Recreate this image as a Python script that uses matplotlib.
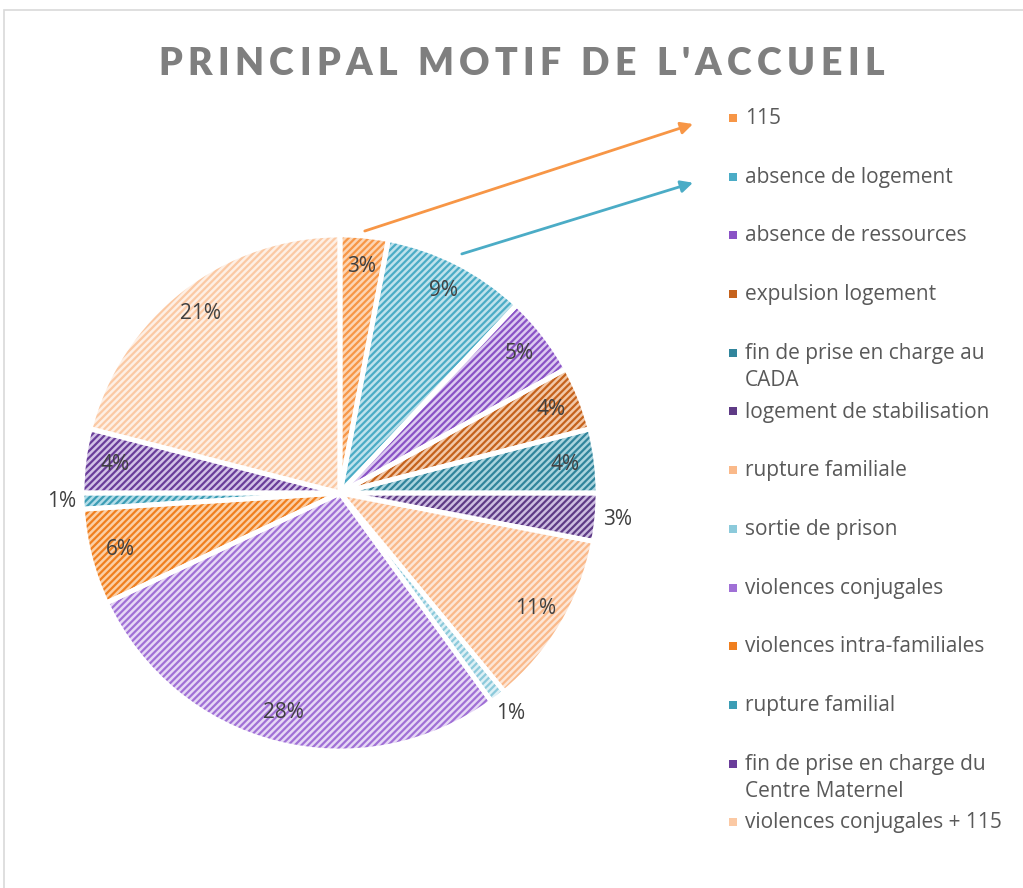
import matplotlib
matplotlib.use("Agg")
import matplotlib.pyplot as plt
import numpy as np
from matplotlib.patches import Rectangle

plt.rcParams['hatch.linewidth'] = 1.6

labels = ["115", "absence de logement", "absence de ressources", "expulsion logement",
          "fin de prise en charge au\nCADA", "logement de stabilisation", "rupture familiale",
          "sortie de prison", "violences conjugales", "violences intra-familiales",
          "rupture familial", "fin de prise en charge du\nCentre Maternel",
          "violences conjugales + 115"]
values = [3, 9, 5, 4, 4, 3, 11, 1, 28, 6, 1, 4, 21]
stripe_colors = ["#F79646", "#4BACC6", "#8A52C6", "#C5621C", "#31859C", "#5F3B86",
                 "#FAB98A", "#8CCADB", "#A070D6", "#F07F1F", "#3C9DB5", "#6A3D9A",
                 "#FBC9A4"]
light_colors = ["#FCD5B4", "#BFE2EC", "#DCCAF0", "#F2C8A8", "#AAD4DE", "#CDBDE0",
                "#FDE6D6", "#DDF0F5", "#E6D8F5", "#FBCFA6", "#B2DCE8", "#D2C2E6",
                "#FEEFE4"]
title = "PRINCIPAL MOTIF DE L'ACCUEIL"
outside = {5, 7, 10}

W, H = 1023, 888
fig = plt.figure(figsize=(W / 100, H / 100), dpi=100)
fig.patch.set_facecolor("white")

# chart border
fig.patches.append(Rectangle((4 / W, 1 - 1100 / H), 1100 / W, 1090 / H,
                             transform=fig.transFigure, fill=False,
                             edgecolor="#D9D9D9", linewidth=1.2))

cx, cy, R = 340, 493, 258
ax = fig.add_axes([(cx - R) / W, (H - cy - R) / H, 2 * R / W, 2 * R / H])
ax.set_aspect("equal")

wedges, _ = ax.pie(values, startangle=90, counterclock=False, radius=1,
                   colors=light_colors,
                   wedgeprops=dict(linewidth=0, hatch="/////"))
for w, sc in zip(wedges, stripe_colors):
    w.set_edgecolor(sc)

wedges2, _ = ax.pie(values, startangle=90, counterclock=False, radius=1,
                    colors=["none"] * len(values),
                    wedgeprops=dict(linewidth=3.5, edgecolor="white"))

for i, (w, v) in enumerate(zip(wedges, values)):
    ang = np.deg2rad((w.theta1 + w.theta2) / 2)
    r = 1.08 if i in outside else 0.88
    ax.text(r * np.cos(ang), r * np.sin(ang), f"{v}%", ha="center", va="center",
            fontsize=15, color="#404040", family="Open Sans")

ax.set_xlim(-1, 1)
ax.set_ylim(-1, 1)
ax.axis("off")

# legend
lx, ly0, dy = 733 / W, 118, 58.7
for i, (lab, sc) in enumerate(zip(labels, stripe_colors)):
    y = 1 - (ly0 + i * dy) / H
    fig.patches.append(Rectangle((lx - 4 / W, y - 4 / H), 8 / W, 8 / H,
                                 transform=fig.transFigure, facecolor=sc,
                                 edgecolor="none"))
    fig.text(745 / W, y + 10 / H, lab, ha="left", va="top", fontsize=15,
             color="#595959", family="Open Sans", linespacing=1.38)

# arrows from slices to legend
for idx, rr in [(0, 1.02), (1, 1.04)]:
    w = wedges[idx]
    ang = np.deg2rad((w.theta1 + w.theta2) / 2)
    start = (rr * np.cos(ang), rr * np.sin(ang))
    end = (693 / W, 1 - (ly0 + idx * dy + 6) / H)
    ax.annotate("", xy=end, xycoords="figure fraction", xytext=start,
                textcoords="data",
                arrowprops=dict(arrowstyle="-|>", color=stripe_colors[idx],
                                lw=2, mutation_scale=18, shrinkA=0, shrinkB=0),
                annotation_clip=False)

# title with letter spacing
fig.canvas.draw()
renderer = fig.canvas.get_renderer()
tprops = dict(fontsize=27, fontweight="heavy", color="#7F7F7F", family="Lato")
spacing = 5.4
chars = []
total = 0
for ch in title:
    if ch == " ":
        wpx = 9
    else:
        t = fig.text(0, 0, ch, **tprops)
        wpx = t.get_window_extent(renderer).width
        t.remove()
    chars.append((ch, wpx))
    total += wpx + spacing
total -= spacing
x = 521 - total / 2
for ch, wpx in chars:
    if ch != " ":
        fig.text(x / W, 1 - 75 / H, ch, ha="left", va="baseline", **tprops)
    x += wpx + spacing

fig.savefig("out.png", dpi=100)
